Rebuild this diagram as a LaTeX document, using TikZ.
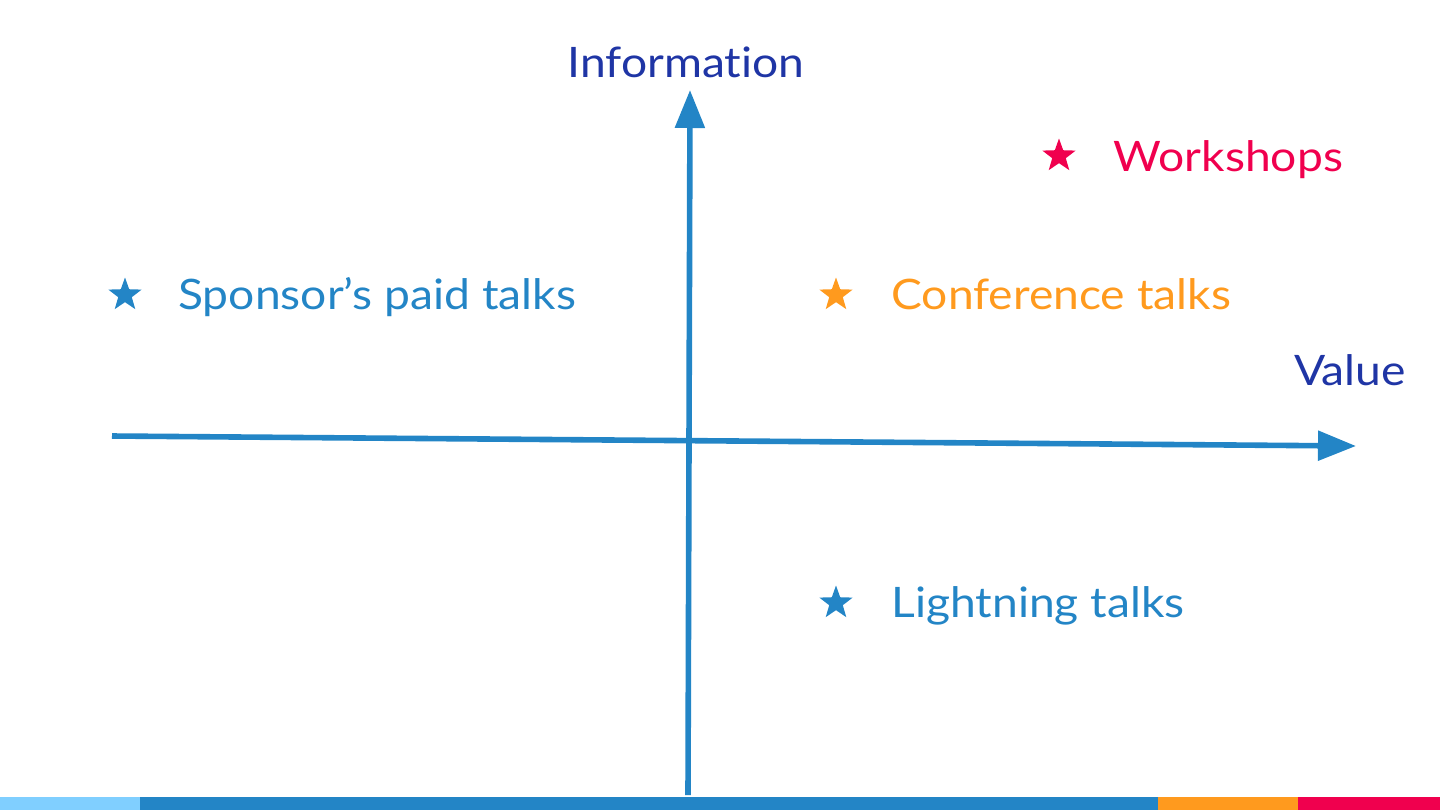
\documentclass[tikz,border=0pt]{standalone}
\usepackage{fontspec}
\setmainfont{Lato}[FakeStretch=1.1, Ligatures=NoCommon]
\usetikzlibrary{arrows.meta,shapes.geometric}
\definecolor{axisblue}{HTML}{2385C6}
\definecolor{labelblue}{HTML}{1F35A5}
\definecolor{lightblue}{HTML}{80CFFF}
\definecolor{talkorange}{HTML}{FF9A1E}
\definecolor{talkred}{HTML}{F0004E}
\tikzset{
  axis/.style={draw=axisblue, line width=2.8pt, -{Triangle[length=19pt,width=14.5pt]}},
  starmark/.style={star, star points=5, star point ratio=2.45, fill=#1, draw=none, inner sep=0pt, minimum size=17.5pt},
  talk/.style={anchor=base west, inner sep=0pt, text=#1, font=\fontsize{21}{25}\selectfont},
  axislabel/.style={anchor=base, inner sep=0pt, text=labelblue, font=\fontsize{21}{25}\selectfont}
}
\begin{document}
\begin{tikzpicture}[x=0.5pt,y=-0.5pt]
\useasboundingbox (0,0) rectangle (1440,810);

\coordinate (xstart) at (112,436);
\coordinate (xend) at (1356,446);
\coordinate (ystart) at (688,795);
\coordinate (yend) at (690,90);

\path[axis] (xstart) -- (xend);
\path[axis] (ystart) -- (yend);

\node[axislabel] (info) at (686,77) {Information};
\node[axislabel] (value) at (1350,385) {Value};

\node[starmark=axisblue] (sponsorstar) at (125,295) {};
\node[talk=axisblue] (sponsor) at (178,309) {Sponsor’s paid talks};

\node[starmark=talkorange] (confstar) at (836,295) {};
\node[talk=talkorange] (conf) at (891,309) {Conference talks};

\node[starmark=talkred] (workstar) at (1059,156) {};
\node[talk=talkred] (work) at (1113,171) {Workshops};

\node[starmark=axisblue] (lightstar) at (836,603) {};
\node[talk=axisblue] (light) at (891,617) {Lightning talks};

\fill[lightblue] (0,797) rectangle (140,810);
\fill[axisblue] (140,797) rectangle (1158,810);
\fill[talkorange] (1158,797) rectangle (1298,810);
\fill[talkred] (1298,797) rectangle (1440,810);
\end{tikzpicture}
\end{document}
